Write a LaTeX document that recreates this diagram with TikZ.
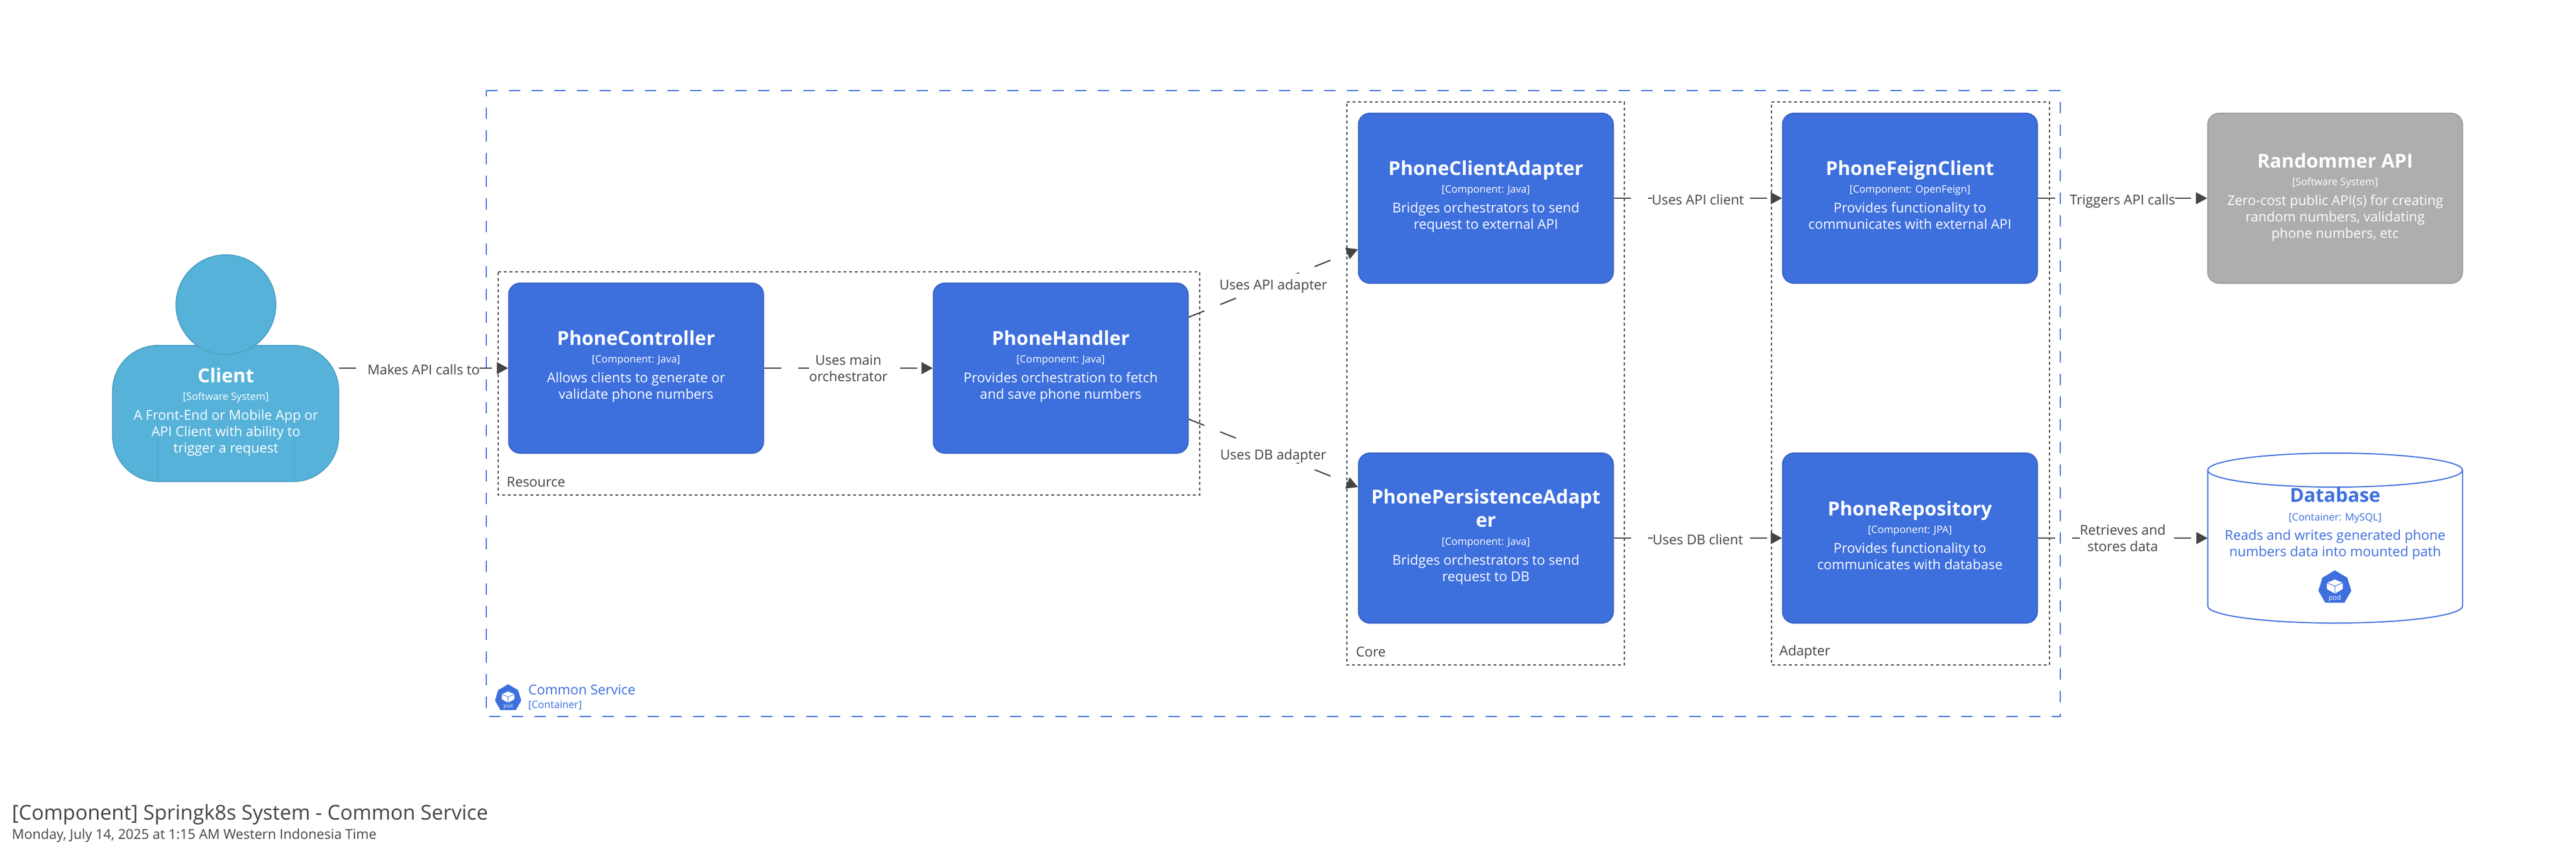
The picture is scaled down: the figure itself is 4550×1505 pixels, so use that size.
\documentclass[tikz,border=0pt]{standalone}
\usepackage{fontspec}
\setmainfont{Open Sans}
\usetikzlibrary{arrows.meta}
\definecolor{compblue}{HTML}{3D6FDD}
\definecolor{compedge}{HTML}{3660C6}
\definecolor{clientfill}{HTML}{56B2D9}
\definecolor{clientedge}{HTML}{4EA1C5}
\definecolor{extfill}{HTML}{AEAEAE}
\definecolor{extedge}{HTML}{9C9C9C}
\definecolor{ink}{HTML}{444444}
\newcommand{\ttlfont}{\fontsize{34}{29}\selectfont\bfseries}
\newcommand{\mtafont}{\fontsize{18}{29}\selectfont}
\newcommand{\cardtext}[3]{{\ttlfont #1}\\[2pt]{\mtafont #2}\\[6pt]#3}
\newcommand{\clockrect}[5][]{\draw[#1] (#2,#3) -- (#4,#3) -- (#4,#5) -- (#2,#5) -- cycle;}
\newcommand{\podicon}[5]{%
  \begin{scope}[shift={(#1,#2)},x=#3pt,y=-#3pt]
    \fill[compblue] (0,0) -- (22,13) -- (29,36) -- (17,57) -- (-17,57) -- (-29,36) -- (-22,13) -- cycle;
    \fill[white] (0,16) -- (14,22) -- (14,33) -- (0,41) -- (-14,33) -- (-14,22) -- cycle;
    \draw[compblue,line width=#3*1pt] (-14,22) -- (0,28) -- (14,22) (0,28) -- (0,41);
    \node[inner sep=0pt,text=white,font=\fontsize{#5}{#5}\selectfont] (#4) at (0,49) {pod};
  \end{scope}}
\tikzset{
  comp/.style={draw=compedge,fill=compblue,line width=2pt,rounded corners=20pt,minimum width=450pt,minimum height=300pt,inner sep=0pt},
  ext/.style={comp,draw=extedge,fill=extfill},
  txt/.style={anchor=north,align=center,inner sep=0pt,font={\fontsize{24}{29}\selectfont\lineskiplimit=-1000pt}},
  card/.style={txt,text=white},
  dbtext/.style={txt,text=compblue},
  grouprect/.style={draw=ink,line width=1.7pt,dash pattern=on 5pt off 5pt},
  boundary/.style={draw=compblue,line width=2.4pt,dash pattern=on 20pt off 20pt},
  conn/.style={draw=ink,line width=2.2pt,dash pattern=on 30pt off 30pt,-{Triangle[length=20pt,width=21pt]}},
  lbl/.style={fill=white,text=ink,inner sep=0pt,font={\fontsize{24}{29}\selectfont},text height=28.7pt,text depth=5.3pt},
  lblm/.style={fill=white,text=ink,inner sep=0pt,align=center,font={\fontsize{24}{29}\selectfont}},
  grouplabel/.style={anchor=west,inner sep=0pt,text=ink,font={\fontsize{24}{29}\selectfont}},
}
\begin{document}
\begin{tikzpicture}[x=1pt,y=-1pt]
\useasboundingbox[fill=white] (0,0) rectangle (4550,1505);

% boundaries and groups
\clockrect[boundary]{859}{160}{3639}{1265}
\clockrect[grouprect]{880}{480}{2119}{874}
\clockrect[grouprect]{2379}{180}{2869}{1174}
\clockrect[grouprect]{3129}{180}{3620}{1174}
\node[grouplabel] (resource) at (895,851) {Resource};
\node[grouplabel] (core) at (2395,1151) {Core};
\node[grouplabel] (adapter) at (3143,1151) {Adapter};

% client
\node[draw=clientedge,fill=clientfill,line width=2pt,rounded corners=80pt,minimum width=399pt,minimum height=240pt,inner sep=0pt] (clientbody) at (398.5,730) {};
\draw[clientedge,line width=1pt] (278,716) -- (278,851) (519,716) -- (519,851);
\node[circle,draw=clientedge,fill=clientfill,line width=2pt,minimum size=176pt,inner sep=0pt] (clienthead) at (399,538) {};
\node[card] (clienttext) at (399,649.5) {\cardtext{Client}{[Software System]}{A Front-End or Mobile App or\\API Client with ability to\\trigger a request}};

% components
\node[comp] (controller) at (1123.5,650) {};
\node[comp] (handler) at (1873.5,650) {};
\node[comp] (clientadapter) at (2624.5,350) {};
\node[comp] (persistence) at (2624.5,950) {};
\node[comp] (feign) at (3373.5,350) {};
\node[comp] (repository) at (3373.5,950) {};
\node[ext] (randommer) at (4124.5,350) {};

\node[card] (controllertext) at (1123.5,583.5) {\cardtext{PhoneController}{[Component: Java]}{Allows clients to generate or\\validate phone numbers}};
\node[card] (handlertext) at (1873.5,583.5) {\cardtext{PhoneHandler}{[Component: Java]}{Provides orchestration to fetch\\and save phone numbers}};
\node[card] (clientadaptertext) at (2624.5,283.5) {\cardtext{PhoneClientAdapter}{[Component: Java]}{Bridges orchestrators to send\\request to external API}};
\node[card] (persistencetext) at (2624.5,863.5) {{\ttlfont PhonePersistenceAdapt}\\[12pt]{\ttlfont er}\\[3pt]{\mtafont [Component: Java]}\\[6pt]Bridges orchestrators to send\\request to DB};
\node[card] (feigntext) at (3373.5,283.5) {\cardtext{PhoneFeignClient}{[Component: OpenFeign]}{Provides functionality to\\communicates with external API}};
\node[card] (repositorytext) at (3373.5,884.5) {\cardtext{PhoneRepository}{[Component: JPA]}{Provides functionality to\\communicates with database}};
\node[card] (randommertext) at (4124.5,270.5) {\cardtext{Randommer API}{[Software System]}{Zero-cost public API(s) for creating\\random numbers, validating\\phone numbers, etc}};

% database
\node[minimum width=450pt,minimum height=298pt,inner sep=0pt] (database) at (4124.5,950) {};
\draw[draw=compblue,fill=white,line width=2pt] (3899.5,830) arc[start angle=180,end angle=0,x radius=225pt,y radius=30pt] -- (4349.5,1070) arc[start angle=0,end angle=-180,x radius=225pt,y radius=30pt] -- cycle;
\draw[draw=compblue,line width=2pt] (3899.5,830) arc[start angle=180,end angle=360,x radius=225pt,y radius=30pt];
\node[dbtext] (databasetext) at (4124.5,860.5) {{\ttlfont Database}\\[4pt]{\mtafont [Container: MySQL]}\\[5pt]Reads and writes generated phone\\numbers data into mounted path};
\podicon{4124}{1007}{1}{podone}{12}

% container label
\podicon{897.5}{1208}{0.8}{podtwo}{9}
\node[grouplabel,text=compblue] (commonservice) at (933,1218) {Common Service};
\node[grouplabel,text=compblue,font={\fontsize{18}{22}\selectfont}] (commontype) at (933,1245) {[Container]};

% connectors
\draw[conn] (clientbody.east |- controller.west) -- node[lbl] (l1) {Makes API calls to} (controller.west);
\draw[conn] (controller.east) -- node[lblm] (l2) {Uses main\\orchestrator} (handler.west);
\draw[conn] ([yshift=90pt]handler.east) -- node[lbl] (l3) {Uses API adapter} ([yshift=-90pt]clientadapter.west);
\draw[conn] ([yshift=-90pt]handler.east) -- node[lbl] (l4) {Uses DB adapter} ([yshift=90pt]persistence.west);
\draw[conn] (clientadapter.east) -- node[lbl] (l5) {Uses API client} (feign.west);
\draw[conn] (persistence.east) -- node[lbl] (l6) {Uses DB client} (repository.west);
\draw[conn] (feign.east) -- node[lbl] (l7) {Triggers API calls} (randommer.west);
\draw[conn] (repository.east) -- node[lblm] (l8) {Retrieves and\\stores data} (database.west);

% footer
\node[anchor=base west,inner sep=0pt,text=ink,font={\fontsize{36}{43}\selectfont}] (title) at (21,1447) {[Component] Springk8s System - Common Service};
\node[anchor=base west,inner sep=0pt,text=ink,font={\fontsize{24}{29}\selectfont}] (date) at (21,1481) {Monday, July 14, 2025 at 1:15 AM Western Indonesia Time};
\end{tikzpicture}
\end{document}
